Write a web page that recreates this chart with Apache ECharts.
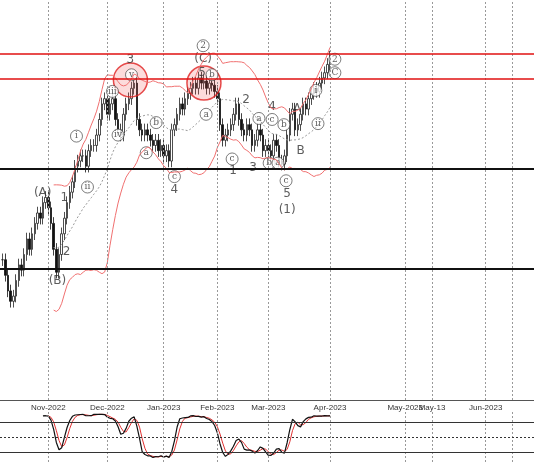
<!DOCTYPE html>
<html><head><meta charset="utf-8">
<script src="https://cdn.jsdelivr.net/npm/echarts@6/dist/echarts.min.js"></script>
<style>html,body{margin:0;background:#fff}#c{width:534px;height:462px}</style>
</head><body><div id="c"></div>
<script>
// closes per trading day, Oct 7 2022 .. Apr 3 2023 (chart units)
var closes = [150,135,120,110,115,130,145,140,155,170,160,175,185,195,190,205,210,
  200,185,160,138,155,175,190,205,215,225,240,245,250,250,240,255,260,260,270,285,300,305,
  290,300,305,285,275,270,290,300,305,315,320,285,275,270,275,270,265,260,265,255,260,
  250,255,245,275,280,290,300,295,305,310,315,320,315,325,320,322,315,320,318,312,
  305,280,265,270,275,280,290,300,285,275,270,280,275,260,265,275,270,255,260,
  255,250,265,260,245,242,250,270,290,295,275,280,290,300,295,305,310,315,312,320,325,330,338,
  345];
var tickIdx = [17,39,60,80,99,122,150,160,180,190];
var tickText = ['Nov-2022','Dec-2022','Jan-2023','Feb-2023','Mar-2023','Apr-2023','May-2023','May-13','Jun-2023','Jun-13'];
var levelsRed = [348,324];
var levelsBlack = [238,141];
var waveLabels = [['3',47.6,342],['(C)',74.7,343],['5',74.3,330],['2',90.7,304],['4',100.4,297],['A',109.7,295],
  ['B',111,255],['1',85.9,236],['3',93.3,238],['5',106,213],['(1)',106,198],['4',64,217],['(A)',14.9,214],
  ['1',23,210],['2',23.8,158],['(B)',20.4,130]];
var circled = [['2',74.7,356],['2',123.8,343],['i',27.5,269],['ii',31.6,220],['iii',40.9,312],['iv',43,270],['v',48,328],
  ['a',53.5,253],['b',57.2,282],['c',64,230],['a',75.8,290],['b',78,328],['c',85.5,247],['a',95.5,286],
  ['c',100.4,285],['b',104.8,280],['b',99.3,243],['a',102.6,243],['c',105.6,226],['i',116.7,313],
  ['ii',117.5,281],['C',123.8,330]];
var hotZones = [[47.6,323],[75,320]];

var ohlc = closes.map(function (c, i) {
  var o = i ? closes[i - 1] : c;
  return [i, o, c, Math.min(o, c) - 6, Math.max(o, c) + 6];
});
var mid = [], up = [], lo = [];
closes.forEach(function (c, i) {
  if (i < 19) return;
  var w = closes.slice(i - 19, i + 1), m = w.reduce(function (a, b) { return a + b; }, 0) / 20;
  var sd = Math.sqrt(w.reduce(function (a, b) { return a + (b - m) * (b - m); }, 0) / 20);
  mid.push([i, m]); up.push([i, m + 2 * sd]); lo.push([i, m - 2 * sd]);
});
var rawK = [], K = [], D = [];
closes.forEach(function (c, i) {
  if (i < 13) return;
  var hi = -1e9, lw = 1e9;
  for (var j = i - 13; j <= i; j++) { hi = Math.max(hi, ohlc[j][4]); lw = Math.min(lw, ohlc[j][3]); }
  rawK.push([i, (c - lw) / (hi - lw) * 100]);
});
rawK.forEach(function (p, n) {
  if (n < 2) return;
  K.push([p[0], (rawK[n][1] + rawK[n - 1][1] + rawK[n - 2][1]) / 3]);
});
K.forEach(function (p, n) {
  if (n < 2) return;
  D.push([p[0], (K[n][1] + K[n - 1][1] + K[n - 2][1]) / 3]);
});

var vLines = tickIdx.map(function (v) { return { xAxis: v }; });
var xBase = { type: 'value', min: -1, max: 198, splitLine: { show: false }, axisTick: { show: false },
  axisLine: { show: true, onZero: false, lineStyle: { color: '#555' } }, axisLabel: { show: false } };
var chart = echarts.init(document.getElementById('c'));
chart.setOption({
  animation: false,
  grid: [{ left: 0, right: 0, top: 0, bottom: 62 }, { left: 0, right: 0, top: 412, bottom: 0 }],
  xAxis: [
    Object.assign({}, xBase, { gridIndex: 0,
      axisLabel: { show: true, customValues: tickIdx, fontSize: 8, color: '#333', margin: 4,
        formatter: function (v) { return tickText[tickIdx.indexOf(v)] || ''; } } }),
    Object.assign({}, xBase, { gridIndex: 1 })
  ],
  yAxis: [
    { gridIndex: 0, min: 15, max: 400, show: false, splitLine: { show: false } },
    { gridIndex: 1, min: 0, max: 100, show: false, splitLine: { show: false } }
  ],
  series: [
    { type: 'candlestick', data: ohlc, encode: { x: 0, y: [1, 2, 3, 4] }, barWidth: 2,
      itemStyle: { color: '#fff', color0: '#111', borderColor: '#222', borderColor0: '#111', borderWidth: 0.8 },
      markLine: { symbol: 'none', silent: true, label: { show: false },
        data: vLines.map(function (d) { return Object.assign({ lineStyle: { color: '#999', width: 1, type: [2, 2] } }, d); })
          .concat(levelsRed.map(function (v) { return { yAxis: v, lineStyle: { color: '#e01010', width: 1.5, type: 'solid' } }; }))
          .concat(levelsBlack.map(function (v) { return { yAxis: v, lineStyle: { color: '#111', width: 1.8, type: 'solid' } }; })) } },
    { type: 'line', data: up, symbol: 'none', lineStyle: { color: '#f07070', width: 1 } },
    { type: 'line', data: lo, symbol: 'none', lineStyle: { color: '#f07070', width: 1 } },
    { type: 'line', data: mid, symbol: 'none', lineStyle: { color: '#999', width: 1, type: [2, 2] } },
    { type: 'scatter', data: hotZones, symbolSize: 34, silent: true,
      itemStyle: { color: 'rgba(240,80,80,0.25)', borderColor: '#e02020', borderWidth: 1.5 } },
    { type: 'scatter', symbolSize: 0, silent: true,
      data: waveLabels.map(function (d) { return { value: [d[1], d[2]], name: d[0] }; }),
      label: { show: true, formatter: '{b}', color: '#333', fontSize: 12, fontFamily: 'DejaVu Sans' } },
    { type: 'scatter', symbolSize: 12, silent: true,
      itemStyle: { color: '#fff', borderColor: '#333', borderWidth: 0.8 },
      data: circled.map(function (d) { return { value: [d[1], d[2]], name: d[0] }; }),
      label: { show: true, formatter: '{b}', color: '#333', fontSize: 9, fontFamily: 'DejaVu Serif' } },
    { type: 'line', xAxisIndex: 1, yAxisIndex: 1, data: D, symbol: 'none', lineStyle: { color: '#e03030', width: 1 },
      markLine: { symbol: 'none', silent: true, label: { show: false },
        data: vLines.map(function (d) { return Object.assign({ lineStyle: { color: '#999', width: 1, type: [2, 2] } }, d); })
          .concat([{ yAxis: 80, lineStyle: { color: '#333', type: 'solid', width: 1 } },
               { yAxis: 50, lineStyle: { color: '#333', type: [2, 2], width: 1 } },
               { yAxis: 20, lineStyle: { color: '#333', type: 'solid', width: 1 } }]) } },
    { type: 'line', xAxisIndex: 1, yAxisIndex: 1, data: K, symbol: 'none', lineStyle: { color: '#111', width: 1.2 } }
  ]
});
</script></body></html>
